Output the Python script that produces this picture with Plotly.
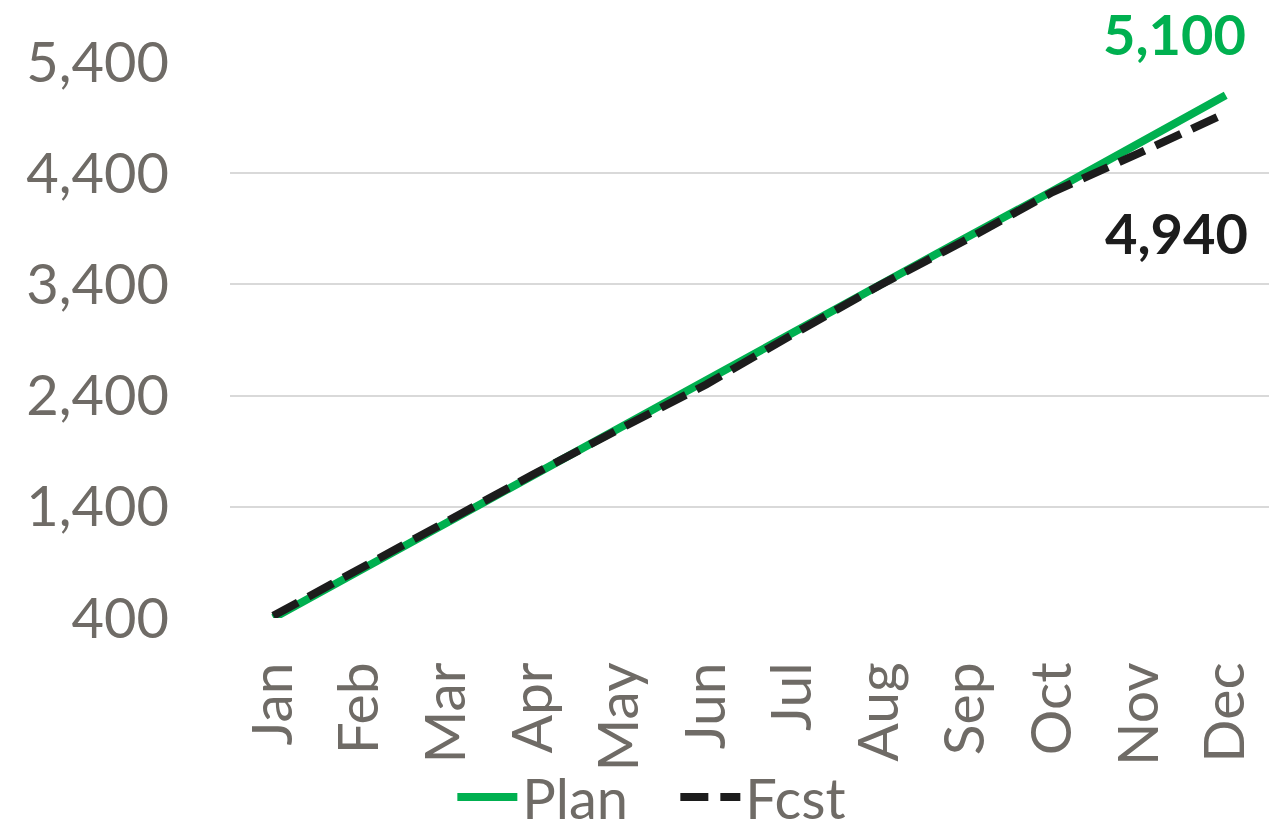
import plotly.graph_objects as go

months = ["Jan", "Feb", "Mar", "Apr", "May", "Jun", "Jul", "Aug", "Sep", "Oct", "Nov", "Dec"]
plan = [400, 830, 1250, 1680, 2110, 2530, 2960, 3390, 3820, 4240, 4670, 5100]
fcst = [420, 850, 1265, 1690, 2100, 2500, 2950, 3390, 3800, 4230, 4580, 4940]
y_ticks = [400, 1400, 2400, 3400, 4400, 5400]

GREEN = "#00b050"
BLACK = "#1c1c1c"
GRAY = "#6f6b66"
FONT = "Lato"

fig = go.Figure()
fig.add_trace(go.Scatter(x=months, y=plan, name="Plan", mode="lines",
                         line=dict(color=GREEN, width=8)))
fig.add_trace(go.Scatter(x=months, y=fcst, name="Fcst", mode="lines",
                         line=dict(color=BLACK, width=8, dash="28px,12px")))

fig.add_annotation(x=months[-1], y=plan[-1], text=f"{plan[-1]:,}", showarrow=False,
                   xanchor="right", yanchor="middle", xshift=22, yshift=62,
                   font=dict(family=FONT, size=56, color=GREEN, weight="bold"))
fig.add_annotation(x=months[-1], y=fcst[-1], text=f"{fcst[-1]:,}", showarrow=False,
                   xanchor="right", yanchor="middle", xshift=24, yshift=-119,
                   font=dict(family=FONT, size=56, color=BLACK, weight="bold"))

fig.update_layout(
    width=1269, height=833,
    margin=dict(l=230, r=0, t=62, b=215, autoexpand=False),
    paper_bgcolor="white", plot_bgcolor="white",
    font=dict(family=FONT, size=56, color=GRAY),
    showlegend=True,
    legend=dict(orientation="h", x=0.214, xanchor="left", xref="paper",
                y=-0.322, yanchor="middle", font=dict(family=FONT, size=56, color=GRAY),
                entrywidth=148, itemwidth=60, bgcolor="rgba(0,0,0,0)"),
    xaxis=dict(type="category", range=[-0.5, 11.5], showgrid=False, zeroline=False,
               showline=False, tickangle=-90, ticks="", ticklabelstandoff=32,
               automargin=False,
               tickfont=dict(family=FONT, size=57, color=GRAY)),
    yaxis=dict(range=[400, 5400], tickvals=y_ticks, ticktext=[f"{v:,}" for v in y_ticks],
               showgrid=True, gridcolor="#d9d9d9", gridwidth=2, zeroline=False,
               showline=False, ticks="", ticklabelstandoff=60, automargin=False,
               tickfont=dict(family=FONT, size=56, color=GRAY)),
)

fig.write_html("out.html")
